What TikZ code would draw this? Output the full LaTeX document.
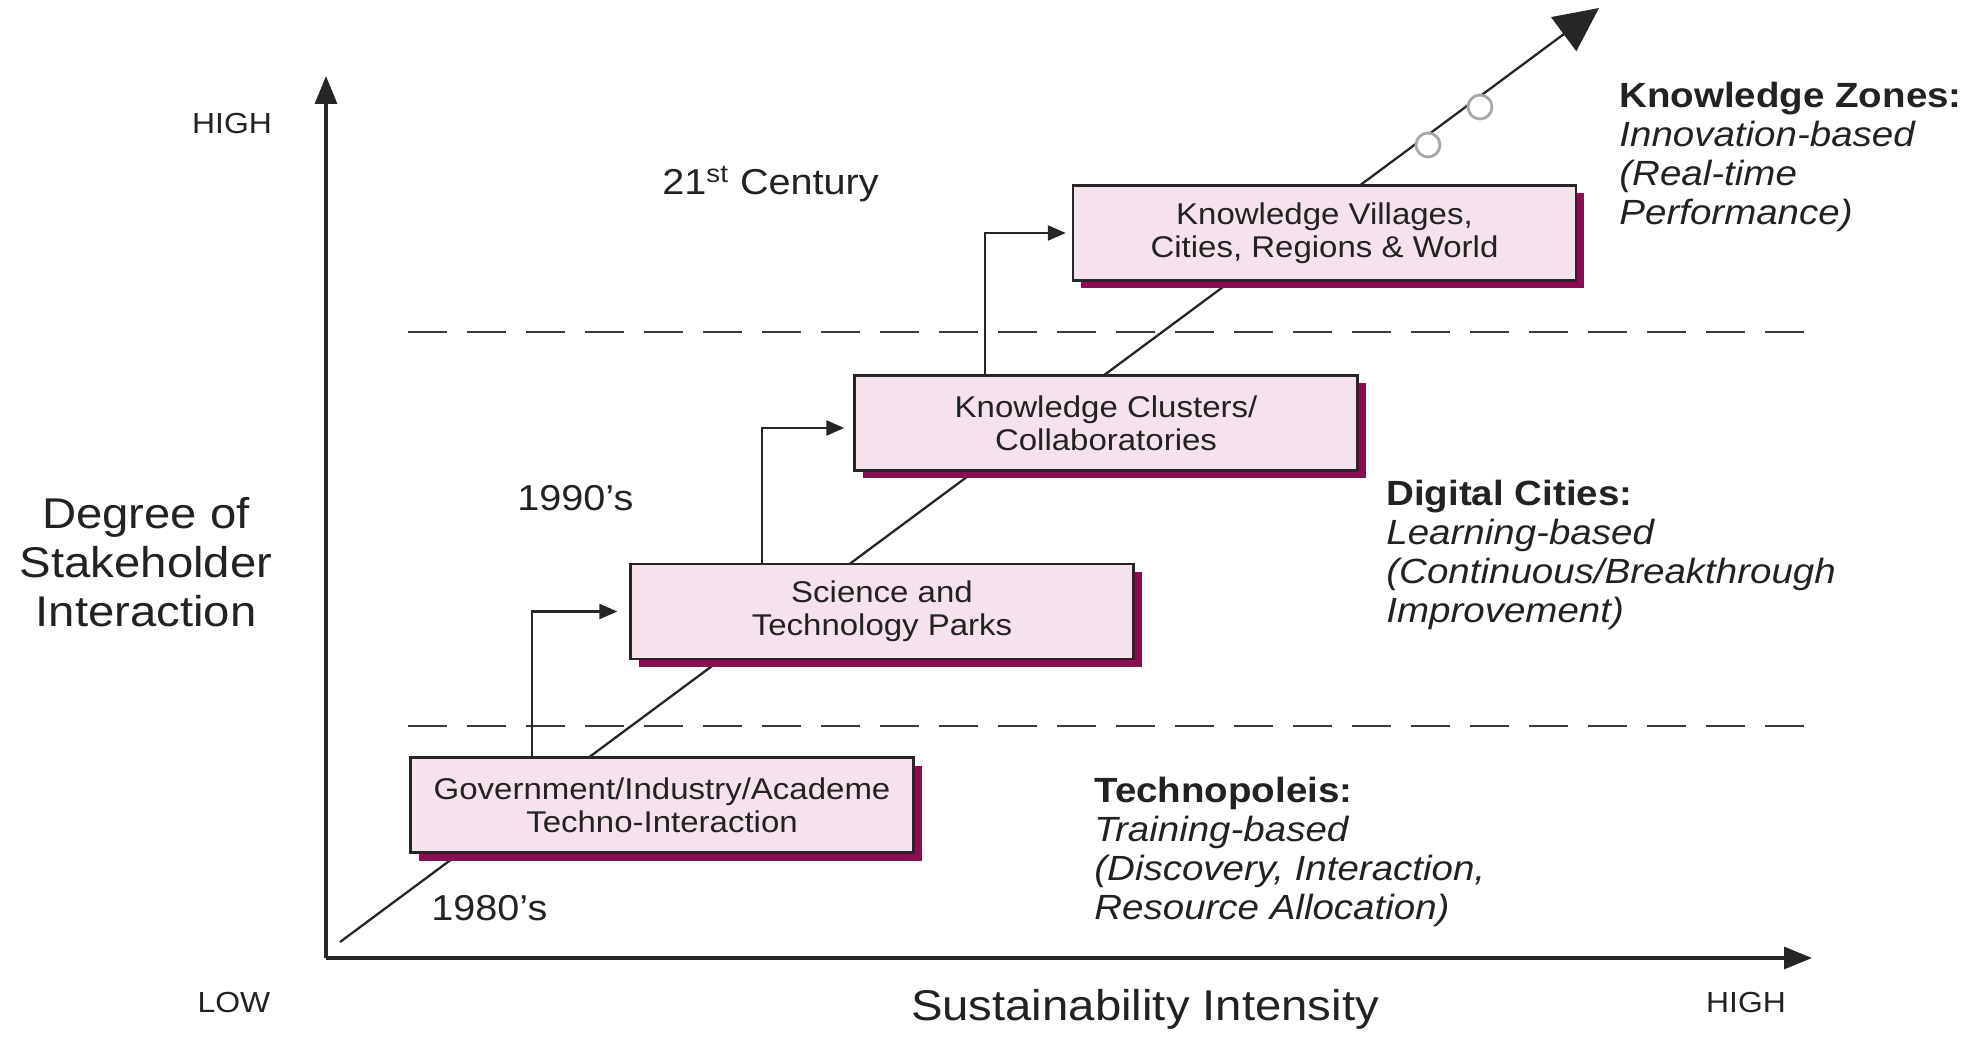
\documentclass[tikz,border=0pt]{standalone}
\usepackage{fontspec}
\setmainfont[FakeStretch=1.1]{Liberation Sans}
\usetikzlibrary{arrows.meta,shadows,calc}
\definecolor{boxfill}{HTML}{F6E2EC}
\definecolor{shadowc}{HTML}{8A0C52}
\definecolor{linec}{HTML}{262626}
\definecolor{txt}{HTML}{222222}
\definecolor{dashc}{HTML}{3A3A3A}
\definecolor{circc}{HTML}{A8A8A8}
\begin{document}
\begin{tikzpicture}[x=0.5pt,y=-0.5pt,
  stagebox/.style={draw=linec, line width=1.2pt, fill=boxfill, minimum width=251.5pt,
    minimum height=47.5pt, inner sep=0pt, align=center, text=txt,
    font=\fontsize{15}{16.5}\selectfont,
    general shadow={fill=shadowc, shadow xshift=4pt, shadow yshift=-4pt}},
  steparrow/.style={draw=linec, line width=1.15pt, -{Triangle[length=9pt,width=7.5pt]}},
  axisline/.style={draw=linec, line width=1.6pt, -{Triangle[length=14pt,width=11pt]}},
  diagline/.style={draw=linec, line width=1.15pt, -{Triangle[length=22pt,width=21pt]}},
  guideline/.style={draw=dashc, line width=1.1pt, dash pattern=on 19.5pt off 10pt},
  zonelabel/.style={anchor=north west, inner sep=0pt, align=left, text=txt,
    font=\fontsize{17.5}{19.4}\selectfont},
  eralabel/.style={anchor=base west, inner sep=0pt, text=txt, font=\fontsize{18}{20}\selectfont},
  axislabel/.style={inner sep=0pt, text=txt, font=\fontsize{14.5}{16}\selectfont},
  ring/.style={circle, draw=circc, line width=1.4pt, fill=white, minimum size=12pt, inner sep=0pt}
]
\useasboundingbox (0,0) rectangle (1987,1037);

% guide lines
\draw[guideline] (408,332) -- (1812,332);
\draw[guideline] (408,726) -- (1812,726);

% diagonal trend
\coordinate (ds) at (340,942);
\coordinate (de) at (1599,8);
\draw[diagline] (ds) -- (de);

% circles on trend
\node[ring] (r1) at (1428,145) {};
\node[ring] (r2) at (1480,107) {};

% stage boxes
\node[stagebox] (b1) at (662,805) {Government/Industry/Academe\\Techno-Interaction};
\node[stagebox] (b2) at (882,611.5) {Science and\\Technology Parks};
\node[stagebox] (b3) at (1106,423) {Knowledge Clusters/\\Collaboratories};
\node[stagebox] (b4) at (1324.5,233) {Knowledge Villages,\\Cities, Regions \& World};

% step arrows
\draw[steparrow] ($(b1.north west)+(123,0)$) |- ($(b2.west)+(-12,0)$);
\draw[steparrow] ($(b2.north west)+(133,0)$) |- ($(b3.west)+(-9,5)$);
\draw[steparrow] ($(b3.north west)+(132,0)$) |- ($(b4.west)+(-6,0)$);

% axes
\coordinate (O) at (326,958);
\coordinate (ytop) at (326,76);
\coordinate (xend) at (1812,958);
\draw[axisline] (O) -- (ytop);
\draw[axisline] (O) -- (xend);

% axis labels
\node[axislabel] (yhigh) at (232,124) {HIGH};
\node[axislabel] (xlow) at (234,1003) {LOW};
\node[axislabel] (xhigh) at (1746,1003) {HIGH};
\node[inner sep=0pt, align=center, text=txt, font=\fontsize{21.5}{24.5}\selectfont] (ylab) at (146,562)
  {Degree of\\Stakeholder\\Interaction};
\node[anchor=base, inner sep=0pt, text=txt, font=\fontsize{21.5}{24}\selectfont] (xlab) at (1145,1020)
  {Sustainability Intensity};

% era labels
\node[eralabel] (e80) at (431,920) {1980’s};
\node[eralabel] (e90) at (517,510) {1990’s};
\node[eralabel] (e21) at (662,195) {21\textsuperscript{st} Century};

% zone labels
\node[zonelabel] (z1) at (1094,777) {\textbf{Technopoleis:}\\\textit{Training-based}\\\textit{(Discovery, Interaction,}\\\textit{Resource Allocation)}};
\node[zonelabel] (z2) at (1386,480) {\textbf{Digital Cities:}\\\textit{Learning-based}\\\textit{(Continuous/Breakthrough}\\\textit{Improvement)}};
\node[zonelabel] (z3) at (1619,82) {\textbf{Knowledge Zones:}\\\textit{Innovation-based}\\\textit{(Real-time}\\\textit{Performance)}};
\end{tikzpicture}
\end{document}
